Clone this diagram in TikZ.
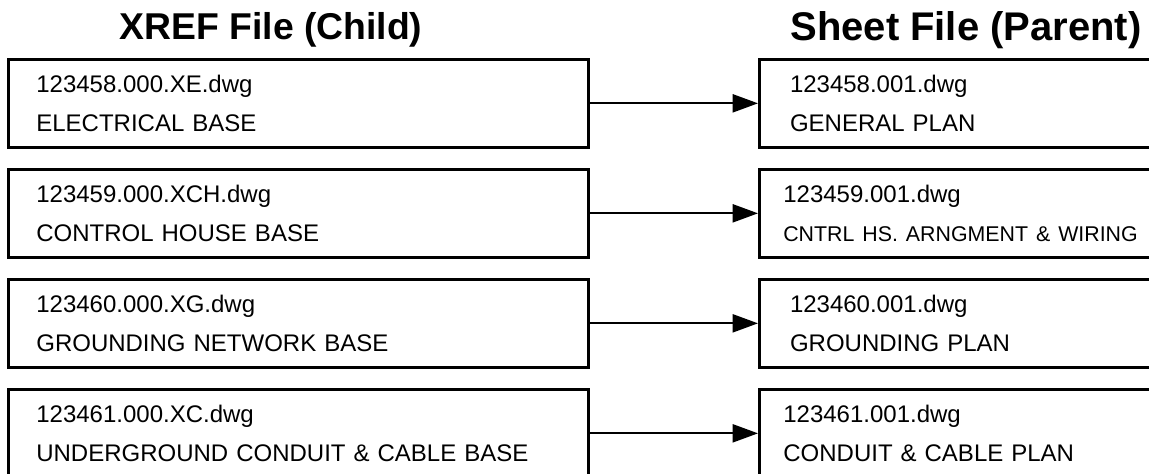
\documentclass[tikz,border=0pt]{standalone}
\usepackage{fontspec}
\setmainfont{Liberation Sans}
\usepackage{tikz}
\usetikzlibrary{arrows.meta,positioning}
\tikzset{
childbox/.style={rectangle,draw=black,line width=2pt,minimum width=435pt,minimum height=66pt,
  text width=393pt,inner xsep=21pt,align=left,font=\fontsize{18}{29.5}\selectfont},
parentbox/.style={childbox,minimum width=330pt,text width=284pt,inner xsep=23pt},
nearbox/.style={parentbox,text width=294pt,inner xsep=18pt},
linkarr/.style={line width=1.6pt,-{Triangle[length=19pt,width=13.5pt]}},
headtext/.style={font=\bfseries\fontsize{28}{32}\selectfont}
}

\begin{document}
\begin{tikzpicture}[x=0.75pt,y=-0.75pt,node distance=14.5pt and 126.25pt]
\path[use as bounding box,clip] (0,0) rectangle (1149,474);
% headings
\node[headtext] (childhead) at (271,30) {XREF File (Child)};
\node[headtext,font=\bfseries\fontsize{30}{34}\selectfont] (parenthead) at (966,30) {Sheet File (Parent)};
% xref files
\node[childbox,anchor=north west] (xe) at (7,58) {123458.000.XE.dwg\\ELECTRICAL BASE};
\node[childbox,below=of xe] (xch) {123459.000.XCH.dwg\\CONTROL HOUSE BASE};
\node[childbox,below=of xch] (xg) {123460.000.XG.dwg\\GROUNDING NETWORK BASE};
\node[childbox,below=of xg] (xc) {123461.000.XC.dwg\\UNDERGROUND CONDUIT \& CABLE BASE};
% sheet files
\node[parentbox,right=of xe] (pe) {123458.001.dwg\\GENERAL PLAN};
\node[nearbox,right=of xch] (pch) {123459.001.dwg\\{\fontsize{16}{29.5}\selectfont CNTRL HS. ARNGMENT \& WIRING}};
\node[parentbox,right=of xg] (pg) {123460.001.dwg\\GROUNDING PLAN};
\node[nearbox,right=of xc] (pc) {123461.001.dwg\\CONDUIT \& CABLE PLAN};
\draw[linkarr] (xe) -- (pe);
\draw[linkarr] (xch) -- (pch);
\draw[linkarr] (xg) -- (pg);
\draw[linkarr] (xc) -- (pc);
\end{tikzpicture}
\end{document}
